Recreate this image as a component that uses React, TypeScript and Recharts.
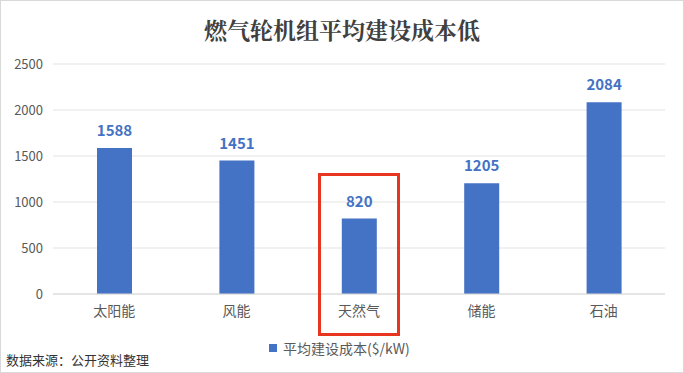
import { BarChart, Bar, XAxis, YAxis, CartesianGrid, LabelList } from 'recharts';

document.body.style.margin = '0';

const categories = ['太阳能', '风能', '天然气', '储能', '石油'];
const costs = [1588, 1451, 820, 1205, 2084];
const yTicks = [0, 500, 1000, 1500, 2000, 2500];
const seriesName = '平均建设成本($/kW)';

const data = categories.map((name, i) => ({ name, cost: costs[i] }));

const font = '"Microsoft YaHei", "Noto Sans CJK SC", sans-serif';

export default function App() {
  return (
    <div
      style={{
        position: 'relative',
        width: 684,
        height: 373,
        boxSizing: 'border-box',
        border: '1px solid #d9d9d9',
        background: '#fff',
        fontFamily: font,
      }}
    >
      <div
        style={{
          position: 'absolute',
          top: 12,
          left: 0,
          width: '100%',
          textAlign: 'center',
          fontSize: 23,
          fontWeight: 'bold',
          color: '#404040',
          fontFamily: '"Noto Serif CJK SC", "Noto Sans CJK SC", serif',
        }}
      >
        燃气轮机组平均建设成本低
      </div>
      <div style={{ position: 'absolute', top: -1, left: -1 }}>
        <BarChart
          width={684}
          height={373}
          data={data}
          margin={{ top: 64, right: 19, left: 0, bottom: 49 }}
        >
          <CartesianGrid vertical={false} stroke="#e3e3e3" />
          <XAxis
            dataKey="name"
            height={30}
            axisLine={{ stroke: '#d9d9d9' }}
            tickLine={false}
            tick={{ fill: '#595959', fontSize: 14, fontFamily: font }}
            dy={4}
          />
          <YAxis
            width={53}
            domain={[0, 2500]}
            ticks={yTicks}
            axisLine={false}
            tickLine={false}
            tick={{ fill: '#595959', fontSize: 13, fontFamily: font }}
            dx={-2}
          />
          <Bar dataKey="cost" name={seriesName} fill="#4472C4" barSize={35} isAnimationActive={false}>
            <LabelList
              dataKey="cost"
              position="top"
              offset={12}
              fill="#4472C4"
              fontSize={15}
              fontWeight="bold"
              fontFamily={font}
            />
          </Bar>
        </BarChart>
      </div>
      <div
        style={{
          position: 'absolute',
          left: 317,
          top: 172,
          width: 82,
          height: 163,
          boxSizing: 'border-box',
          border: '3px solid #e8351f',
        }}
      />
      <div
        style={{
          position: 'absolute',
          left: 268,
          top: 337,
          display: 'flex',
          alignItems: 'center',
          fontSize: 14,
          color: '#595959',
        }}
      >
        <span style={{ display: 'inline-block', width: 8, height: 8, background: '#4472C4', marginRight: 6 }} />
        {seriesName}
      </div>
      <div
        style={{
          position: 'absolute',
          left: 5,
          top: 349,
          fontSize: 13,
          color: '#333',
        }}
      >
        数据来源：公开资料整理
      </div>
    </div>
  );
}
